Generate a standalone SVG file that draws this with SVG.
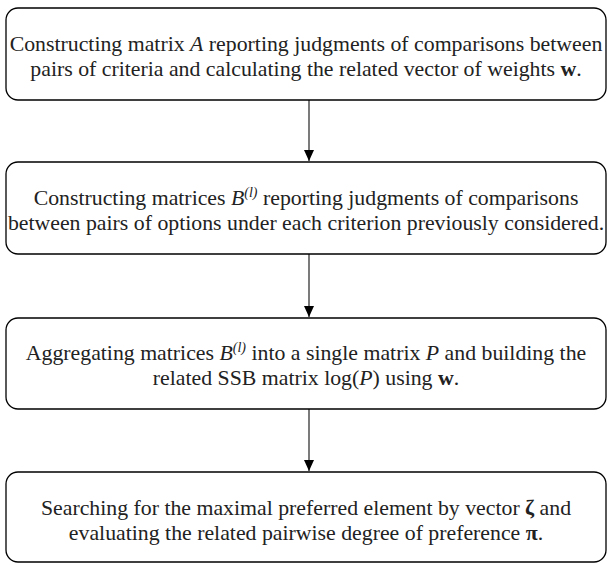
<svg xmlns="http://www.w3.org/2000/svg" width="608" height="563" viewBox="0 0 608 563">
<style>
.box{fill:#fff;stroke:#000;stroke-width:1.3}
.t{font-family:'Liberation Serif','Times New Roman','DejaVu Serif',serif;font-size:21.8px;fill:#222;text-anchor:middle}
.i{font-style:italic}
.b{font-weight:bold}
.sup{font-size:14px;font-style:italic}
.c{stroke:#333;stroke-width:1.3;fill:none}
</style>
<defs>
<marker id="ah" markerWidth="12" markerHeight="10" refX="11" refY="5" orient="auto" markerUnits="userSpaceOnUse" viewBox="0 0 12 10">
<path d="M0,0 L11,5 L0,10 Z" fill="#000"/>
</marker>
</defs>
<rect width="608" height="563" fill="#fff"/>
<g id="connectors">
<line class="c" x1="309" y1="100" x2="309" y2="161" marker-end="url(#ah)"/>
<line class="c" x1="309" y1="254" x2="309" y2="317" marker-end="url(#ah)"/>
<line class="c" x1="309" y1="409" x2="309" y2="471" marker-end="url(#ah)"/>
</g>
<g id="n1">
<rect class="box" x="6" y="8" width="600" height="92" rx="12"/>
<text class="t" font-family="Liberation Serif, serif" x="306" y="51">Constructing matrix <tspan class="i">A</tspan> reporting judgments of comparisons between</text>
<text class="t" font-family="Liberation Serif, serif" x="306" y="76">pairs of criteria and calculating the related vector of weights <tspan class="b">w</tspan>.</text>
</g>
<g id="n2">
<rect class="box" x="6" y="162" width="600" height="92" rx="12"/>
<text class="t" x="306" y="205">Constructing matrices <tspan class="i">B</tspan><tspan class="sup" dy="-8">(l)</tspan><tspan dy="8"> reporting judgments of comparisons</tspan></text>
<text class="t" x="306" y="230">between pairs of options under each criterion previously considered.</text>
</g>
<g id="n3">
<rect class="box" x="6" y="318" width="600" height="91" rx="12"/>
<text class="t" x="306" y="360">Aggregating matrices <tspan class="i">B</tspan><tspan class="sup" dy="-8">(l)</tspan><tspan dy="8"> into a single matrix </tspan><tspan class="i">P</tspan> and building the</text>
<text class="t" x="306" y="385">related SSB matrix log(<tspan class="i">P</tspan>) using <tspan class="b">w</tspan>.</text>
</g>
<g id="n4">
<rect class="box" x="6" y="472" width="600" height="90" rx="12"/>
<text class="t" x="306" y="515">Searching for the maximal preferred element by vector <tspan class="b">ζ</tspan> and</text>
<text class="t" x="306" y="540">evaluating the related pairwise degree of preference <tspan class="b">π</tspan>.</text>
</g>
</svg>
